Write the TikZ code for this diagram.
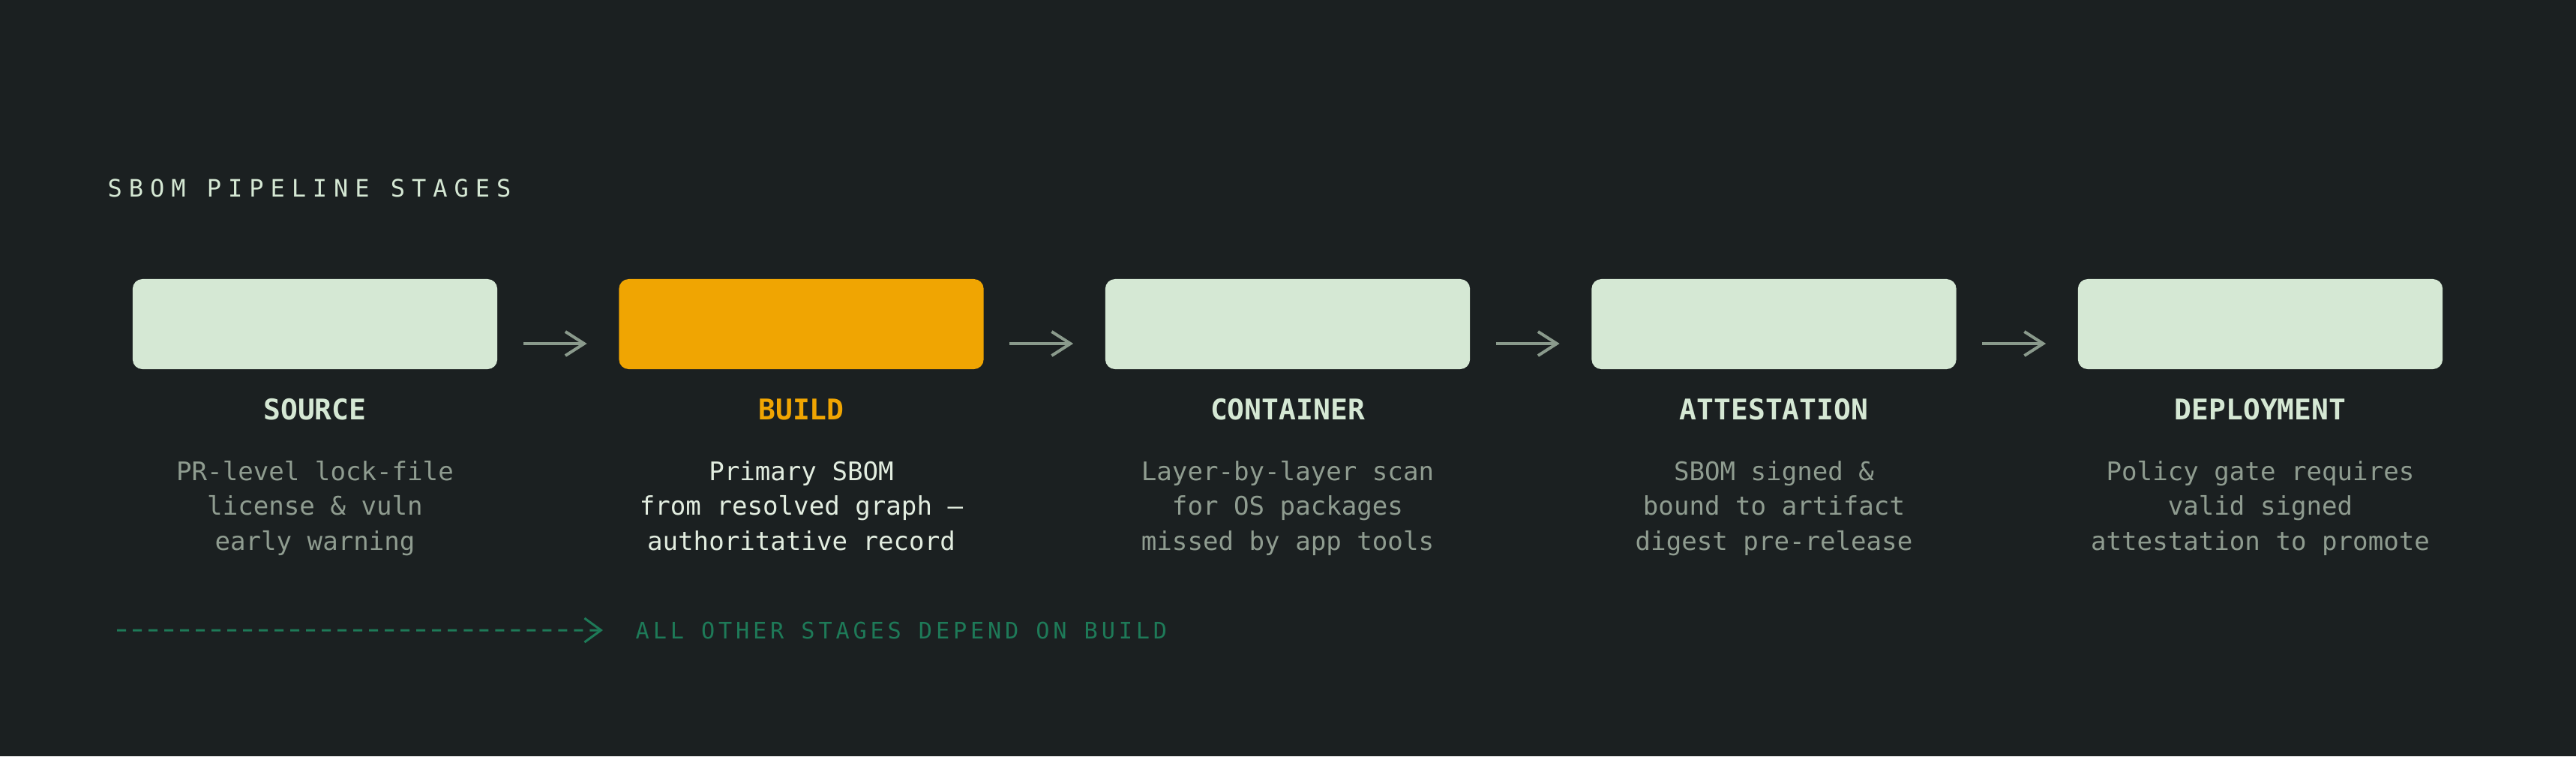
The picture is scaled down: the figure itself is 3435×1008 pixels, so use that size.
\documentclass[tikz,border=0pt]{standalone}
\usepackage{fontspec}
\setmonofont{DejaVu Sans Mono}
\newfontfamily\spacedmono[LetterSpace=28]{DejaVu Sans Mono}
\newfontfamily\widemono[LetterSpace=16]{DejaVu Sans Mono}
\usetikzlibrary{arrows.meta}
\definecolor{bgdark}{HTML}{1B2021}
\definecolor{boxmint}{HTML}{D5E8D4}
\definecolor{amber}{HTML}{F0A502}
\definecolor{arrowgrey}{HTML}{8A9A8C}
\definecolor{notegrey}{HTML}{8F9C90}
\definecolor{notelight}{HTML}{E2EDE0}
\definecolor{depgreen}{HTML}{1E7A58}
\tikzset{
  stagebox/.style={fill=boxmint, rounded corners=0.13cm, minimum width=4.86cm, minimum height=1.2cm, inner sep=0},
  stagename/.style={anchor=base, inner sep=0, text=boxmint, font=\fontsize{10.8}{13}\selectfont\ttfamily\bfseries},
  stagenote/.style={anchor=base, inner sep=0, align=center, text=notegrey, font=\fontsize{9.7}{13.2}\selectfont\ttfamily},
  flow/.style={draw=arrowgrey, line width=0.04cm, -{Straight Barb[length=0.25cm,width=0.32cm]}, shorten <=0.34cm, shorten >=0.42cm}
}
\begin{document}
\begin{tikzpicture}[x=0.01cm, y=-0.01cm]
\fill[bgdark] (0,0) rectangle (3435,1008);

\node[anchor=base west, inner sep=0, text=boxmint, font=\fontsize{9.1}{11}\selectfont\spacedmono] (title) at (143,262) {SBOM PIPELINE STAGES};

\node[stagebox] (src) at (420,432) {};
\node[stagebox, fill=amber] (bld) at (1068.5,432) {};
\node[stagebox] (ctr) at (1717,432) {};
\node[stagebox] (att) at (2365.5,432) {};
\node[stagebox] (dep) at (3014,432) {};

\draw[flow] ([yshift=-0.26cm]src.east) -- ([yshift=-0.26cm]bld.west);
\draw[flow] ([yshift=-0.26cm]bld.east) -- ([yshift=-0.26cm]ctr.west);
\draw[flow] ([yshift=-0.26cm]ctr.east) -- ([yshift=-0.26cm]att.west);
\draw[flow] ([yshift=-0.26cm]att.east) -- ([yshift=-0.26cm]dep.west);

\node[stagename] (srcname) at (420,559) {SOURCE};
\node[stagename, text=amber] (bldname) at (1068.5,559) {BUILD};
\node[stagename] (ctrname) at (1717,559) {CONTAINER};
\node[stagename] (attname) at (2365.5,559) {ATTESTATION};
\node[stagename] (depname) at (3014,559) {DEPLOYMENT};

\node[stagenote] (srcnote) at (420,733) {PR-level lock-file\\license \& vuln\\early warning};
\node[stagenote, text=notelight] (bldnote) at (1068.5,733) {Primary SBOM\\from resolved graph —\\authoritative record};
\node[stagenote] (ctrnote) at (1717,733) {Layer-by-layer scan\\for OS packages\\missed by app tools};
\node[stagenote] (attnote) at (2365.5,733) {SBOM signed \&\\bound to artifact\\digest pre-release};
\node[stagenote] (depnote) at (3014,733) {Policy gate requires\\valid signed\\attestation to promote};

\coordinate (deptail) at (156,840);
\node[anchor=base west, inner sep=0, text=depgreen, font=\fontsize{8.6}{10}\selectfont\widemono] (deplabel) at (847,851) {ALL OTHER STAGES DEPEND ON BUILD};
\draw[depgreen, line width=0.03cm, dash pattern=on 0.12cm off 0.09cm, -{Straight Barb[length=0.22cm,width=0.32cm]}, shorten >=0.43cm] (deptail) -- (deplabel.west);
\end{tikzpicture}
\end{document}
